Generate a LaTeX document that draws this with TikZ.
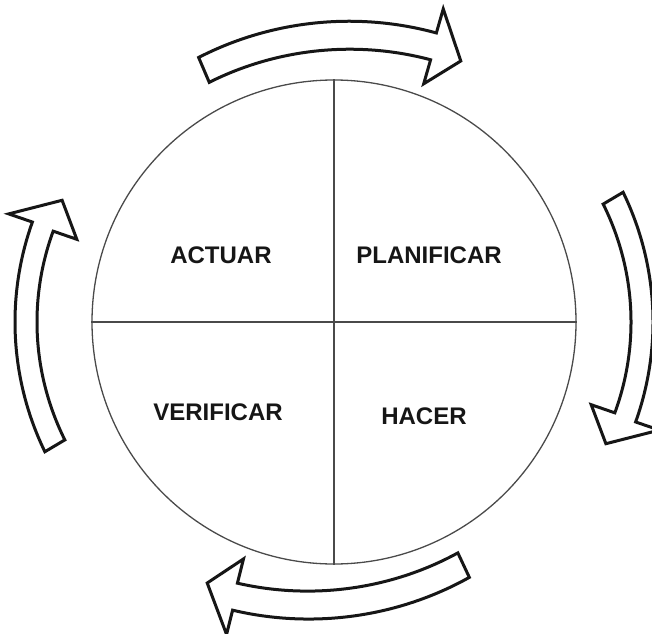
\documentclass[tikz,border=0pt]{standalone}
\usepackage{fontspec}
\setmainfont{Liberation Sans}
\definecolor{ink}{HTML}{161616}
\definecolor{rulegray}{HTML}{4A4A4A}
\tikzset{
  ring/.style={circle,draw=rulegray,line width=1.3pt,minimum size=484pt,inner sep=0pt},
  divider/.style={draw=rulegray,line width=1.3pt},
  phase/.style={font=\bfseries\fontsize{24}{28}\selectfont,text=ink,inner sep=0pt},
  blockarrow/.style={draw=ink,fill=white,line width=3pt,line join=miter},
}

\begin{document}
\begin{tikzpicture}[x=1pt,y=1pt]
\useasboundingbox (0,0) rectangle (652,633);
\node[ring] (cycle) at (334,311) {};
\coordinate (mid) at (cycle.center);
\draw[divider] (cycle.north) -- (cycle.south);
\draw[divider] (cycle.west) -- (cycle.east);
\node[phase] (actuar) at (221,378) {ACTUAR};
\node[phase] (planificar) at (429,378) {PLANIFICAR};
\node[phase] (verificar) at (218,221) {VERIFICAR};
\node[phase] (hacer) at (424,217) {HACER};
% one curved block arrow per quadrant, turning clockwise
\foreach \ang/\tilt in {90/3,0/0,-90/5,180/0}{
  \begin{scope}[shift={(mid)},rotate around={\tilt:(\ang-25:300pt and 288pt)}]
  \draw[blockarrow]
    (\ang+25:319pt and 307pt)
      arc[start angle=\ang+25,end angle=\ang-19,x radius=319pt,y radius=307pt]
    -- (\ang-19:344pt and 332pt)
    -- (\ang-25:300pt and 288pt)
    -- (\ang-19:272pt and 254pt)
    -- (\ang-19:297pt and 279pt)
      arc[start angle=\ang-19,end angle=\ang+25,x radius=297pt,y radius=279pt]
    -- cycle;
  \end{scope}
}
\end{tikzpicture}
\end{document}
